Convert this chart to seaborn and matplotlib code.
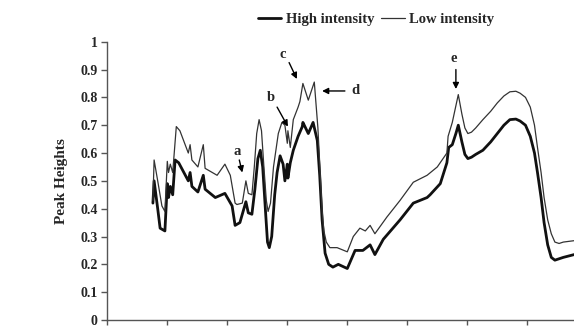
import numpy as np
import pandas as pd
import seaborn as sns
import matplotlib.pyplot as plt

# values (x axis has no labels, ticks every 10 units)
x_high = [7.7, 7.9, 8.5, 8.9, 9.7, 10.1, 10.3, 10.6, 11.0, 11.4, 12.0, 13.6, 13.9, 14.2, 15.2,
          16.1, 16.4, 18.1, 19.7, 20.9, 21.4, 22.2, 23.2, 23.6, 24.2, 24.7, 25.2, 25.6, 26.0,
          26.5, 26.8, 27.1, 27.5, 28.0, 28.4,
          28.9, 29.4, 29.7, 30.1, 30.2, 30.6, 31.1, 31.9, 32.6, 32.7, 33.6, 34.4, 35.1,
          35.5, 35.9, 36.4, 37.0, 37.7, 38.6, 40.1, 41.4, 42.7, 43.9, 44.7, 46.1, 48.9, 51.1, 53.4,
          53.9, 55.6, 56.7, 57.0, 57.6, 58.2, 58.6, 59.2, 59.7, 60.2, 60.8, 61.5, 62.7, 64.0,
          65.1, 66.2, 67.2, 68.2, 68.9, 69.8, 70.6, 71.3, 71.8, 72.4,
          72.9, 73.5, 74.1, 74.7, 75.4, 76.1, 77.9]
y_high = [0.42, 0.50, 0.40, 0.33, 0.32, 0.49, 0.44, 0.48, 0.45, 0.575, 0.565, 0.50, 0.53, 0.48, 0.46,
          0.52, 0.47, 0.44, 0.455, 0.41, 0.34, 0.35, 0.425, 0.385, 0.38, 0.47, 0.58, 0.61, 0.55,
          0.38, 0.28, 0.26, 0.30, 0.45, 0.53,
          0.59, 0.56, 0.50, 0.56, 0.51, 0.565, 0.61, 0.66, 0.695, 0.71, 0.67, 0.71, 0.645,
          0.52, 0.36, 0.24, 0.20, 0.19, 0.20, 0.185, 0.25, 0.25, 0.27, 0.235, 0.29, 0.36, 0.42, 0.44,
          0.45, 0.49, 0.565, 0.62, 0.63, 0.67, 0.70, 0.64, 0.595, 0.58, 0.585, 0.595, 0.61, 0.64,
          0.67, 0.70, 0.72, 0.722, 0.715, 0.70, 0.66, 0.60, 0.53, 0.44,
          0.35, 0.27, 0.225, 0.215, 0.22, 0.225, 0.235]

x_low = [7.7, 7.9, 8.5, 9.2, 9.7, 10.1, 10.3, 10.6, 11.0, 11.6, 12.2, 13.6, 13.9, 14.2, 15.2,
         16.1, 16.4, 17.6, 18.4, 19.7, 20.6, 21.4, 21.7, 22.6, 23.2, 23.6, 24.2, 24.6, 25.0,
         25.4, 25.8, 26.2, 26.6, 26.9, 27.3, 27.8, 28.6, 29.2, 29.7, 30.1, 30.2, 30.6, 31.1,
         31.9, 32.2, 32.7, 33.6, 34.6, 35.2, 35.6, 35.9, 36.2, 36.6, 37.2, 38.4, 40.1, 41.1,
         42.2, 43.1, 43.9, 44.7, 46.7, 48.9, 51.1, 53.4, 55.1, 56.7, 56.9, 57.6, 58.2, 58.6,
         59.2, 59.7, 60.2, 60.8, 61.5, 62.7, 64.0, 65.1, 66.2, 67.2, 68.2, 68.9, 69.8, 70.6,
         71.3, 71.8, 72.4, 72.9, 73.5, 74.1, 74.7, 75.4, 76.1, 77.9]
y_low = [0.43, 0.575, 0.50, 0.41, 0.39, 0.57, 0.53, 0.56, 0.53, 0.695, 0.68, 0.60, 0.63, 0.575, 0.55,
         0.63, 0.545, 0.53, 0.52, 0.56, 0.52, 0.42, 0.415, 0.42, 0.50, 0.455, 0.45, 0.55, 0.67,
         0.72, 0.68, 0.55, 0.43, 0.39, 0.42, 0.55, 0.67, 0.71, 0.70, 0.635, 0.68, 0.62, 0.72,
         0.765, 0.785, 0.85, 0.79, 0.855, 0.69, 0.52, 0.395, 0.32, 0.28, 0.26, 0.26, 0.245, 0.30,
         0.33, 0.32, 0.34, 0.31, 0.37, 0.43, 0.495, 0.52, 0.55, 0.60, 0.66, 0.71, 0.77, 0.81,
         0.74, 0.69, 0.67, 0.675, 0.69, 0.72, 0.75, 0.78, 0.805, 0.82, 0.822, 0.815, 0.80, 0.765,
         0.70, 0.62, 0.53, 0.44, 0.36, 0.31, 0.28, 0.275, 0.28, 0.285]

y_ticks = [0, 0.1, 0.2, 0.3, 0.4, 0.5, 0.6, 0.7, 0.8, 0.9, 1]
y_labels = ['0', '0.1', '0.2', '0.3', '0.4', '0.5', '0.6', '0.7', '0.8', '0.9', '1']
x_ticks = [0, 10, 20, 30, 40, 50, 60, 70, 80]

# peak labels: (letter, text pos, arrow tail, arrow head)
peaks = [
    ('a', (21.7, 0.607), (22.1, 0.575), (22.6, 0.53)),
    ('b', (27.4, 0.80), (28.4, 0.765), (30.2, 0.695)),
    ('c', (29.4, 0.955), (30.4, 0.925), (31.7, 0.866)),
    ('d', (41.4, 0.823), (39.7, 0.823), (35.9, 0.823)),
    ('e', (57.8, 0.94), (58.2, 0.90), (58.2, 0.83)),
]

df = pd.concat([
    pd.DataFrame({'x': x_high, 'y': y_high, 'serie': 'High intensity'}),
    pd.DataFrame({'x': x_low, 'y': y_low, 'serie': 'Low intensity'}),
])

sns.set_style('ticks')
plt.rcParams['font.family'] = ['Liberation Serif', 'DejaVu Serif']
plt.rcParams['font.weight'] = 'bold'

fig = plt.figure(figsize=(5.74, 3.3), dpi=100)
ax = fig.add_axes([0.1859, 0.0303, 0.8362, 0.8433])

sns.lineplot(data=df, x='x', y='y', hue='serie', size='serie',
             palette={'High intensity': '#111111', 'Low intensity': '#333333'},
             sizes={'High intensity': 2.0, 'Low intensity': 0.9},
             estimator=None, sort=False, ax=ax)
for ln in ax.lines:
    ln.set_solid_joinstyle('round')

ax.set_xlim(0, 80)
ax.set_ylim(0, 1)
ax.set_xticks(x_ticks)
ax.set_xticklabels([])
ax.set_yticks(y_ticks)
ax.set_yticklabels(y_labels, fontsize=10, fontweight='bold')
ax.set_xlabel('')
ax.set_ylabel('Peak Heights', fontsize=11, fontweight='bold', labelpad=9)

for side in ['top', 'right']:
    ax.spines[side].set_visible(False)
for side in ['left', 'bottom']:
    ax.spines[side].set_color('#555555')
    ax.spines[side].set_linewidth(1.0)
ax.tick_params(axis='y', length=4.5, width=1, color='#555555', pad=2)
ax.tick_params(axis='x', length=3.5, width=1, color='#555555')

for letter, txt, tail, head in peaks:
    ax.text(txt[0], txt[1], letter, ha='center', va='center', fontsize=10.5, fontweight='bold')
    ax.annotate('', xy=head, xytext=tail,
                arrowprops=dict(arrowstyle='-|>', color='black', lw=1.0,
                                mutation_scale=9, shrinkA=0, shrinkB=0))

leg = ax.legend(loc='center', bbox_to_anchor=(0.655, 0.94), bbox_transform=fig.transFigure,
                ncol=2, frameon=False, handlelength=1.6, handletextpad=0.3,
                columnspacing=0.5, prop={'size': 10.5, 'weight': 'bold'})

fig.savefig('out.png', dpi=100)
